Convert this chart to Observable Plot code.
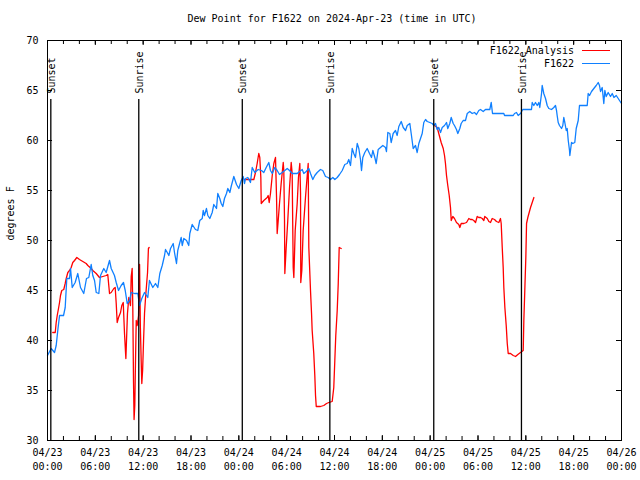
<!DOCTYPE html>
<html>
<head>
<meta charset="utf-8">
<script src="https://cdn.jsdelivr.net/npm/d3@7"></script>
<script src="https://cdn.jsdelivr.net/npm/@observablehq/plot@0.6"></script>
<style>
  body { margin: 0; background: #fff; }
  #wrap { position: relative; width: 640px; height: 480px; font-family: "DejaVu Sans Mono", monospace; font-size: 10px; color: #000; }
  #title { position: absolute; left: 0; top: 13px; width: 640px; padding-left: 24px; box-sizing: border-box; text-align: center; line-height: 12px; }
  #legend { position: absolute; top: 44px; right: 30px; }
  .row { display: flex; justify-content: flex-end; align-items: center; height: 13px; }
  .swatch { display: inline-block; width: 28px; margin-left: 8px; border-top: 1px solid; }
</style>
</head>
<body>
<div id="wrap">
  <div id="chart"></div>
  <div id="title"></div>
  <div id="legend"></div>
</div>
<script>
// ---------- data (hours since 2024-04-23 00:00 UTC, degrees F) ----------
const titleText = "Dew Point for F1622 on 2024-Apr-23 (time in UTC)";
const yLabel = "degrees F";
const seriesNames = ["F1622 Analysis", "F1622"];
const seriesColors = ["#ff0000", "#1080ff"];
const xDomain = ["2024-04-23T00:00Z", "2024-04-26T00:00Z"];
const yDomain = [30, 70];
const yTicks = [30, 35, 40, 45, 50, 55, 60, 65, 70];

const sunLabels = ["Sunset", "Sunrise", "Sunset", "Sunrise", "Sunset", "Sunrise"];
const sunTimes = ["2024-04-23T00:25Z", "2024-04-23T11:27Z", "2024-04-24T00:26Z",
                  "2024-04-24T11:25Z", "2024-04-25T00:27Z", "2024-04-25T11:27Z"];

const f1622 = [
  [0,38.5],[0.46,39.2],[0.88,38.8],[1.09,39.5],[1.29,41],[1.51,42.5],[2.01,42.5],[2.22,43.3],[2.42,46.2],[2.76,46.2],
  [2.89,47.2],[3.10,45.3],[3.47,45.8],[3.80,46.7],[4.14,45.3],[4.55,44.7],[4.89,46.2],[5.18,46.3],[5.48,47.6],[5.68,46.5],
  [5.90,46],[6.11,44.8],[6.44,44.7],[6.65,46.5],[7.06,47.2],[7.36,46.8],[7.78,48],[7.99,47.2],[8.40,46.5],[8.62,45.8],
  [8.91,45],[9.24,45.5],[9.53,45.8],[9.75,45],[10.0,43.7],[10.29,44],[10.50,44.8],[10.91,44.7],[11.33,44.7],[11.54,43.5],
  [11.83,44.2],[12.17,44.8],[12.58,44.3],[12.79,46],[13.21,45.3],[13.55,45.7],[13.84,45.3],[14.09,46.7],[14.39,47.5],[14.68,48.5],
  [14.80,49.1],[15.02,48.8],[15.22,48.5],[15.43,49.2],[15.77,49.7],[15.93,48.8],[16.18,47.7],[16.34,49],[16.60,49.8],[16.77,50.3],
  [16.90,49.5],[17.10,50.2],[17.44,50],[17.72,49.5],[17.85,50.7],[18.15,51.6],[18.56,51.1],[18.85,51],[19.10,52],[19.41,52.2],
  [19.53,53],[19.69,52.5],[19.94,53.2],[20.11,52.5],[20.36,52.2],[20.66,52.8],[20.86,53.6],[21.20,53.2],[21.36,54.7],[21.61,54.2],
  [21.79,53.7],[21.99,53.4],[22.20,54.2],[22.45,54.7],[22.62,55.2],[22.87,54.8],[23.04,55.4],[23.37,56.4],[23.71,55.6],[24.00,55.2],
  [24.30,56],[24.55,56.4],[24.71,55.7],[24.84,56.2],[25.13,56.3],[25.46,55.8],[25.68,57.3],[26.00,56.8],[26.43,57.1],[26.84,57],
  [27.13,56.8],[27.43,57.3],[27.76,57.8],[27.97,57],[28.19,56.7],[28.51,57.3],[28.81,57],[29.10,56.6],[29.44,56.8],[29.77,57],
  [30.07,57.2],[30.36,57],[30.69,56.7],[31.32,56.7],[31.61,56.9],[31.95,57.1],[32.15,56.7],[32.45,56.9],[32.78,57.2],[32.99,56.7],
  [33.28,56.1],[33.53,56.5],[33.83,56.8],[34.24,57.1],[34.53,57],[34.87,56.4],[35.21,56.3],[35.50,56.1],[35.79,56.3],[36.04,56.1],
  [36.34,56.3],[36.63,56.6],[36.97,57],[37.29,57.6],[37.59,57.7],[37.79,58.1],[38.01,57.5],[38.22,59.2],[38.42,58.7],[38.63,58.3],
  [38.85,59.7],[39.05,59.2],[39.26,58.1],[39.39,57],[39.55,58.3],[39.80,58.8],[40.10,59.2],[40.39,58.7],[40.64,58.3],[40.81,59],
  [41.06,58.3],[41.23,57.7],[41.48,59.1],[41.77,59.3],[42.06,59.5],[42.40,59.3],[42.52,58.9],[42.69,60.8],[42.94,60.7],[43.11,59.8],
  [43.36,60.7],[43.65,61],[43.86,60.5],[44.07,61.4],[44.37,61.9],[44.62,61.3],[44.91,61],[45.12,61.5],[45.45,61.7],[45.62,60.7],
  [45.87,59.2],[46.16,59.5],[46.37,58.8],[46.58,59.7],[46.79,60.2],[47.00,60.7],[47.20,61.8],[47.42,62.1],[47.63,61.9],[47.96,61.8],
  [48.26,61.7],[48.46,61.5],[48.67,61.7],[48.88,61.1],[49.08,61.3],[49.30,60.8],[49.51,61.3],[49.80,61.5],[50.05,61.8],[50.21,61.2],
  [50.46,61.7],[50.64,62.3],[50.89,61.7],[51.05,61.5],[51.30,61.1],[51.47,60.7],[51.72,61.2],[51.89,61.7],[52.14,62],[52.43,62],
  [52.65,62.7],[52.97,62.9],[53.27,62.7],[53.56,62.8],[53.81,62.6],[54.10,63],[54.31,63.1],[54.65,62.9],[54.94,63.1],[55.48,63.1],
  [55.66,63.8],[55.82,62.7],[57.24,62.7],[57.33,62.5],[58.42,62.5],[58.58,62.7],[58.83,62.8],[59.04,62.5],[59.33,62.7],[59.62,63.1],
  [60.71,63.1],[60.80,63.8],[61.00,63.5],[61.21,63.8],[61.43,63.5],[61.63,63.8],[61.75,63.3],[61.97,64.7],[62.05,65.5],[62.25,64.7],
  [62.47,64.2],[62.68,63.5],[62.88,63.2],[63.22,63.1],[63.51,63.3],[63.72,63.5],[63.85,63],[63.93,62.5],[64.06,61.8],[64.22,61.5],
  [64.48,61.2],[64.64,61.5],[64.76,62.3],[64.89,61.8],[65.07,61],[65.19,61.2],[65.32,60],[65.48,59],[65.52,58.5],[65.73,59.8],
  [65.89,59.7],[66.14,59.8],[66.32,61.2],[66.57,62],[66.73,63.5],[67.70,63.5],[67.82,64.7],[67.99,64.5],[68.24,64.9],[68.53,65.2],
  [68.83,65.5],[69.08,65.8],[69.24,65.5],[69.37,64.9],[69.58,65.3],[69.78,63.7],[69.91,65],[70.08,64.4],[70.33,64.8],[70.62,64.4],
  [70.84,64.7],[71.05,64.3],[71.34,64.5],[71.59,64.2],[71.75,64],[72.00,63.7]
];

const analysisDay1 = [
  [0.66,40.8],[0.97,40.8],[1.09,41.8],[1.22,42.5],[1.38,43.2],[1.51,43.8],[1.63,44.5],[1.79,45],[2.04,45.1],[2.22,45.7],
  [2.35,46.2],[2.55,46.8],[2.76,47],[2.97,47.3],[3.17,47.8],[3.39,48],[3.68,48.3],[4.01,48.1],[4.43,47.9],[4.85,47.7],
  [5.06,47.5],[5.48,47.2],[5.68,47],[6.11,46.7],[6.52,46.3],[6.94,46.4],[7.36,46.5],[7.56,46.6],[7.78,44.7],[7.99,44.8],
  [8.32,45.2],[8.49,45.3],[8.62,43.7],[8.74,41.8],[8.91,42.3],[9.16,42.8],[9.32,43.5],[9.50,43.8],[9.66,40.7],[9.83,38.2],
  [10.03,42.7],[10.20,44.3],[10.41,43.5],[10.50,46.4],[10.62,47.2],[10.70,43.3],[10.79,35.8],[10.86,32.1],[10.95,33.5],[11.04,38],
  [11.13,42],[11.25,41.5],[11.42,42.5],[11.55,47.6],[11.65,41.3],[11.75,38],[11.83,35.7],[11.93,37],[12.05,40],[12.17,42.7],
  [12.30,44.3],[12.42,45.5],[12.55,46.8],[12.66,49.2],[12.75,49.3]
];

const analysisDay2 = [
  [24.71,56.1],[25.88,56.1],[26.09,56.8],[26.30,57.7],[26.50,58.7],[26.63,58.3],[26.76,56.3],[26.81,53.7],[27.13,54],[27.56,54.3],
  [27.68,54.5],[27.81,53.8],[27.97,54.7],[28.19,56.5],[28.39,57.7],[28.60,58.3],[28.73,54.3],[28.81,50.7],[28.94,52],[29.10,53.7],
  [29.31,55.7],[29.57,57.8],[29.64,57],[29.73,52],[29.77,46.7],[29.94,49.3],[30.14,52],[30.36,55.3],[30.57,57.8],[30.69,56.7],
  [30.82,47.3],[30.90,46.3],[31.07,51],[31.32,53.7],[31.48,56.3],[31.65,57.7],[31.74,54.7],[31.77,45.8],[31.90,47],[32.07,51],
  [32.36,54.3],[32.58,56.5],[32.70,57.7],[32.78,49.3],[32.99,45],[33.12,42.7],[33.20,41],[33.40,38.7],[33.53,36.5],[33.62,34.5],
  [33.71,33.4],[34.24,33.4],[34.66,33.5],[35.00,33.7],[35.29,33.8],[35.71,33.9],[35.91,35.3],[36.04,38],[36.16,40.5],[36.34,43],
  [36.47,45.7],[36.59,49.3],[36.84,49.2]
];

const analysisDay3 = [
  [48.55,61.5],[48.88,61.3],[49.08,60.7],[49.38,59.8],[49.64,59.2],[49.80,58.5],[49.92,57.7],[50.05,56.5],[50.21,55.5],[50.39,54.5],
  [50.55,53.3],[50.64,52],[50.84,52.4],[51.05,52.2],[51.30,51.8],[51.59,51.6],[51.72,51.3],[51.89,51.7],[52.22,51.7],[52.56,51.8],
  [52.85,52.2],[53.06,52.1],[53.27,52.1],[53.47,52],[53.69,51.8],[53.90,52.4],[54.10,52.3],[54.32,52.3],[54.53,52.2],[54.73,52],
  [54.85,52.4],[55.16,52.2],[55.36,51.9],[55.57,51.8],[55.78,52.2],[56.07,52.1],[56.32,51.9],[56.61,51.8],[56.82,52.2],[56.91,51.7],
  [57.04,49.3],[57.16,47.3],[57.24,45.3],[57.37,43.3],[57.54,41.5],[57.67,39.7],[57.79,38.7],[58.08,38.7],[58.42,38.5],[58.71,38.4],
  [59.00,38.6],[59.33,38.8],[59.67,39],[59.75,42],[59.87,45],[60.00,48.3],[60.09,51.7],[60.25,52.3],[60.42,52.8],[60.59,53.3],
  [60.80,53.8],[61.01,54.3]
];

// ---------- build tables ----------
const START = Date.parse(xDomain[0]);
const toDate = h => new Date(START + h * 3600e3);
const blueData = f1622.map(([h, v]) => ({time: toDate(h), value: v}));
const redData = [analysisDay1, analysisDay2, analysisDay3]
  .flatMap((seg, i) => seg.map(([h, v]) => ({time: toDate(h), value: v, seg: i})));
const sunEvents = sunTimes.map((t, i) => ({time: new Date(t), label: sunLabels[i]}));

const W = 640, H = 480, mL = 47, mR = 19, mT = 40, mB = 40;
const pw = W - mL - mR, ph = H - mT - mB;
const d0 = new Date(xDomain[0]), d1 = new Date(xDomain[1]);
const xMinor = d3.utcHour.every(2).range(d0, new Date(+d1 + 1));
const xMajor = d3.utcHour.every(6).range(d0, new Date(+d1 + 1));
const fmtDay = d3.utcFormat("%m/%d"), fmtTime = d3.utcFormat("%H:%M");

const chart = Plot.plot({
  width: W, height: H,
  marginLeft: mL, marginRight: mR, marginTop: mT, marginBottom: mB,
  style: {fontFamily: "'DejaVu Sans Mono', monospace", fontSize: "10px", background: "#fff", color: "#000"},
  x: {type: "utc", domain: [d0, d1]},
  y: {domain: yDomain},
  marks: [
    Plot.line(redData, {x: "time", y: "value", z: "seg", stroke: seriesColors[0], strokeWidth: 1.3}),
    Plot.line(blueData, {x: "time", y: "value", stroke: seriesColors[1], strokeWidth: 1.3}),
    Plot.ruleX(sunEvents, {x: "time", insetTop: 59, stroke: "#000", strokeWidth: 1.3}),
    Plot.text(sunEvents, {x: "time", text: "label", frameAnchor: "top", rotate: -90, textAnchor: "start",
                          lineAnchor: "middle", dy: 53, dx: 1, fill: "#000"}),
    // inward ticks (gnuplot style)
    Plot.ruleX(xMinor, {insetTop: ph - 4, stroke: "#000"}),
    Plot.ruleX(xMinor, {insetBottom: ph - 4, stroke: "#000"}),
    Plot.ruleX(xMajor, {insetTop: ph - 5, stroke: "#000"}),
    Plot.ruleX(xMajor, {insetBottom: ph - 5, stroke: "#000"}),
    Plot.ruleY(yTicks, {insetRight: pw - 5, stroke: "#000"}),
    Plot.ruleY(yTicks, {insetLeft: pw - 5, stroke: "#000"}),
    Plot.axisX({ticks: xMajor, tickFormat: d => fmtDay(d) + "\n" + fmtTime(d), tickSize: 0, tickPadding: 6,
                lineHeight: 1.35, label: null}),
    Plot.axisY({ticks: yTicks, tickSize: 0, tickPadding: 9, label: null}),
    Plot.text([yLabel], {frameAnchor: "left", rotate: -90, dx: -37, fill: "#000"}),
    Plot.frame({stroke: "#000"})
  ]
});
document.getElementById("chart").appendChild(chart);
document.getElementById("title").textContent = titleText;
const legend = document.getElementById("legend");
seriesNames.forEach((name, i) => {
  const row = document.createElement("div");
  row.className = "row";
  const label = document.createElement("span");
  label.textContent = name;
  const sw = document.createElement("span");
  sw.className = "swatch";
  sw.style.borderTopColor = seriesColors[i];
  row.appendChild(label);
  row.appendChild(sw);
  legend.appendChild(row);
});
</script>
</body>
</html>
